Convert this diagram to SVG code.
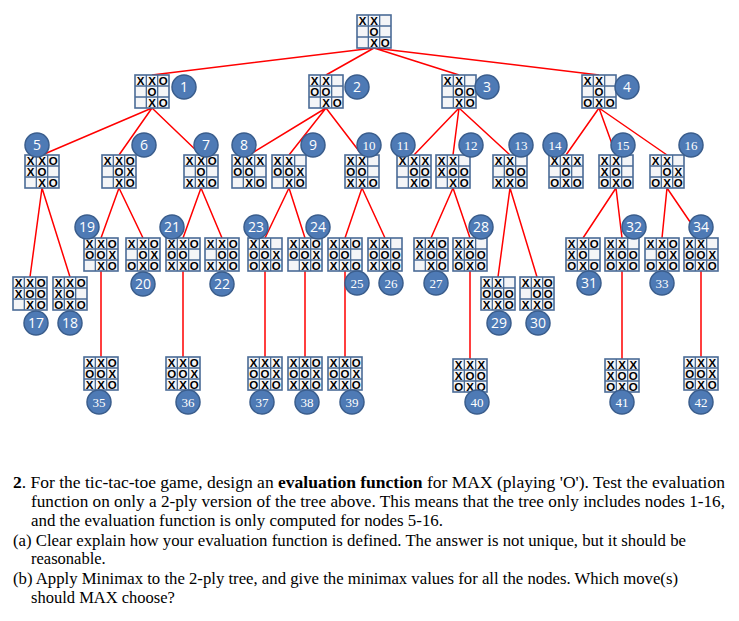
<svg xmlns="http://www.w3.org/2000/svg" xmlns:xlink="http://www.w3.org/1999/xlink" width="739" height="621" viewBox="0 0 739 621">
<style>
.m{font-family:"Liberation Sans",Arial,sans-serif;font-size:11.5px;font-weight:bold;fill:#000;text-anchor:middle}
.c{fill:#4E7AB5;stroke:#3A5D8C;stroke-width:1.5}
.ns{font-family:"Open Sans","Liberation Sans",sans-serif;font-size:14px;fill:#fff;text-anchor:middle}
.nr{font-family:"Liberation Serif","Times New Roman",serif;font-size:13px;fill:#fff;text-anchor:middle}
.e{stroke:#FF0000;stroke-width:1.5;fill:none}
.t{font-family:"Liberation Serif","Times New Roman",serif;font-size:16.5px;fill:#000}
</style>
<defs>
<g id="grid">
<rect x="0" y="0" width="34" height="33" fill="#F4F5F7" stroke="#4A6B96" stroke-width="1.6"/>
<path d="M11.33 0V33M22.67 0V33M0 11H34M0 22H34" stroke="#4A6B96" stroke-width="1.3"/>
</g>
</defs>
<rect width="739" height="621" fill="#fff"/>
<g id="connectors" class="e">
<path d="M374 48L152 75M374 48L326 75M374 48L459 75M374 48L599 75"/>
<path d="M152 108L42 155M152 108L119 155M152 108L201 155"/>
<path d="M326 108L249 155M326 108L289 155M326 108L362 155"/>
<path d="M459 108L414 155M459 108L453 155M459 108L510 155"/>
<path d="M599 108L566 155M599 108L616 155M599 108L667 155"/>
<path d="M42 188L30 277M42 188L70 277"/>
<path d="M119 188L101 238M119 188L143 238"/>
<path d="M201 188L183 238M201 188L222 238"/>
<path d="M289 188L265 238M289 188L305 238"/>
<path d="M362 188L345 238M362 188L385 238"/>
<path d="M453 188L431 238M453 188L470 238"/>
<path d="M510 188L498 277M510 188L537 277"/>
<path d="M616 188L583 238M616 188L622 238"/>
<path d="M667 188L662 238M667 188L701 238"/>
<path d="M101 271V357M183 271V357M265 271V357M305 271V357M345 271V357M470 271V359M622 271V359M701 271V357"/>
</g>
<g id="root" transform="translate(357,15)"><use href="#grid"/><text class="m" x="5.7 17" y="9.5">XX</text><text class="m" x="17" y="20.5">O</text><text class="m" x="17 28.3" y="31.5">XO</text></g>
<g id="n1"><g transform="translate(135,75)"><use href="#grid"/><text class="m" x="5.7 17 28.3" y="9.5">XXO</text><text class="m" x="17" y="20.5">O</text><text class="m" x="17 28.3" y="31.5">XO</text></g><circle class="c" cx="184" cy="87" r="12"/><text class="ns" x="184" y="92">1</text></g>
<g id="n2"><g transform="translate(309,75)"><use href="#grid"/><text class="m" x="5.7 17" y="9.5">XX</text><text class="m" x="5.7 17" y="20.5">OO</text><text class="m" x="17 28.3" y="31.5">XO</text></g><circle class="c" cx="357" cy="87" r="12"/><text class="ns" x="357" y="92">2</text></g>
<g id="n3"><g transform="translate(442,75)"><use href="#grid"/><text class="m" x="5.7 17" y="9.5">XX</text><text class="m" x="17 28.3" y="20.5">OO</text><text class="m" x="17 28.3" y="31.5">XO</text></g><circle class="c" cx="487" cy="87" r="12"/><text class="ns" x="487" y="92">3</text></g>
<g id="n4"><g transform="translate(582,75)"><use href="#grid"/><text class="m" x="5.7 17" y="9.5">XX</text><text class="m" x="17" y="20.5">O</text><text class="m" x="5.7 17 28.3" y="31.5">OXO</text></g><circle class="c" cx="627" cy="87" r="12"/><text class="ns" x="627" y="92">4</text></g>
<g id="n5"><g transform="translate(25,155)"><use href="#grid"/><text class="m" x="5.7 17 28.3" y="9.5">XXO</text><text class="m" x="5.7 17" y="20.5">XO</text><text class="m" x="17 28.3" y="31.5">XO</text></g><circle class="c" cx="37" cy="145" r="12"/><text class="ns" x="37" y="150">5</text></g>
<g id="n6"><g transform="translate(102,155)"><use href="#grid"/><text class="m" x="5.7 17 28.3" y="9.5">XXO</text><text class="m" x="17 28.3" y="20.5">OX</text><text class="m" x="17 28.3" y="31.5">XO</text></g><circle class="c" cx="144" cy="145" r="12"/><text class="ns" x="144" y="150">6</text></g>
<g id="n7"><g transform="translate(184,155)"><use href="#grid"/><text class="m" x="5.7 17 28.3" y="9.5">XXO</text><text class="m" x="17" y="20.5">O</text><text class="m" x="5.7 17 28.3" y="31.5">XXO</text></g><circle class="c" cx="206" cy="145" r="12"/><text class="ns" x="206" y="150">7</text></g>
<g id="n8"><g transform="translate(232,155)"><use href="#grid"/><text class="m" x="5.7 17 28.3" y="9.5">XXX</text><text class="m" x="5.7 17" y="20.5">OO</text><text class="m" x="17 28.3" y="31.5">XO</text></g><circle class="c" cx="244" cy="145" r="12"/><text class="ns" x="244" y="150">8</text></g>
<g id="n9"><g transform="translate(272,155)"><use href="#grid"/><text class="m" x="5.7 17" y="9.5">XX</text><text class="m" x="5.7 17 28.3" y="20.5">OOX</text><text class="m" x="17 28.3" y="31.5">XO</text></g><circle class="c" cx="313" cy="145" r="12"/><text class="ns" x="313" y="150">9</text></g>
<g id="n10"><g transform="translate(345,155)"><use href="#grid"/><text class="m" x="5.7 17" y="9.5">XX</text><text class="m" x="5.7 17" y="20.5">OO</text><text class="m" x="5.7 17 28.3" y="31.5">XXO</text></g><circle class="c" cx="369" cy="145" r="12"/><text class="nr" x="369" y="149.5">10</text></g>
<g id="n11"><g transform="translate(397,155)"><use href="#grid"/><text class="m" x="5.7 17 28.3" y="9.5">XXX</text><text class="m" x="17 28.3" y="20.5">OO</text><text class="m" x="17 28.3" y="31.5">XO</text></g><circle class="c" cx="403" cy="145" r="12"/><text class="nr" x="403" y="149.5">11</text></g>
<g id="n12"><g transform="translate(436,155)"><use href="#grid"/><text class="m" x="5.7 17" y="9.5">XX</text><text class="m" x="5.7 17 28.3" y="20.5">XOO</text><text class="m" x="17 28.3" y="31.5">XO</text></g><circle class="c" cx="471" cy="145" r="12"/><text class="nr" x="471" y="149.5">12</text></g>
<g id="n13"><g transform="translate(493,155)"><use href="#grid"/><text class="m" x="5.7 17" y="9.5">XX</text><text class="m" x="17 28.3" y="20.5">OO</text><text class="m" x="5.7 17 28.3" y="31.5">XXO</text></g><circle class="c" cx="521" cy="145" r="12"/><text class="nr" x="521" y="149.5">13</text></g>
<g id="n14"><g transform="translate(549,155)"><use href="#grid"/><text class="m" x="5.7 17 28.3" y="9.5">XXX</text><text class="m" x="17" y="20.5">O</text><text class="m" x="5.7 17 28.3" y="31.5">OXO</text></g><circle class="c" cx="555" cy="145" r="12"/><text class="nr" x="555" y="149.5">14</text></g>
<g id="n15"><g transform="translate(599,155)"><use href="#grid"/><text class="m" x="5.7 17" y="9.5">XX</text><text class="m" x="5.7 17" y="20.5">XO</text><text class="m" x="5.7 17 28.3" y="31.5">OXO</text></g><circle class="c" cx="623" cy="145" r="12"/><text class="nr" x="623" y="149.5">15</text></g>
<g id="n16"><g transform="translate(650,155)"><use href="#grid"/><text class="m" x="5.7 17" y="9.5">XX</text><text class="m" x="17 28.3" y="20.5">OX</text><text class="m" x="5.7 17 28.3" y="31.5">OXO</text></g><circle class="c" cx="691" cy="145" r="12"/><text class="nr" x="691" y="149.5">16</text></g>
<g id="n17"><g transform="translate(13,277)"><use href="#grid"/><text class="m" x="5.7 17 28.3" y="9.5">XXO</text><text class="m" x="5.7 17 28.3" y="20.5">XOO</text><text class="m" x="17 28.3" y="31.5">XO</text></g><circle class="c" cx="36" cy="323" r="12"/><text class="ns" x="36" y="328">17</text></g>
<g id="n18"><g transform="translate(53,277)"><use href="#grid"/><text class="m" x="5.7 17 28.3" y="9.5">XXO</text><text class="m" x="5.7 17" y="20.5">XO</text><text class="m" x="5.7 17 28.3" y="31.5">OXO</text></g><circle class="c" cx="70" cy="323" r="12"/><text class="ns" x="70" y="328">18</text></g>
<g id="n19"><g transform="translate(84,238)"><use href="#grid"/><text class="m" x="5.7 17 28.3" y="9.5">XXO</text><text class="m" x="5.7 17 28.3" y="20.5">OOX</text><text class="m" x="17 28.3" y="31.5">XO</text></g><circle class="c" cx="87" cy="227" r="12"/><text class="ns" x="87" y="232">19</text></g>
<g id="n20"><g transform="translate(126,238)"><use href="#grid"/><text class="m" x="5.7 17 28.3" y="9.5">XXO</text><text class="m" x="17 28.3" y="20.5">OX</text><text class="m" x="5.7 17 28.3" y="31.5">OXO</text></g><circle class="c" cx="143" cy="284" r="12"/><text class="ns" x="143" y="289">20</text></g>
<g id="n21"><g transform="translate(166,238)"><use href="#grid"/><text class="m" x="5.7 17 28.3" y="9.5">XXO</text><text class="m" x="5.7 17" y="20.5">OO</text><text class="m" x="5.7 17 28.3" y="31.5">XXO</text></g><circle class="c" cx="172" cy="227" r="12"/><text class="ns" x="172" y="232">21</text></g>
<g id="n22"><g transform="translate(205,238)"><use href="#grid"/><text class="m" x="5.7 17 28.3" y="9.5">XXO</text><text class="m" x="17 28.3" y="20.5">OO</text><text class="m" x="5.7 17 28.3" y="31.5">XXO</text></g><circle class="c" cx="222" cy="284" r="12"/><text class="ns" x="222" y="289">22</text></g>
<g id="n23"><g transform="translate(248,238)"><use href="#grid"/><text class="m" x="5.7 17" y="9.5">XX</text><text class="m" x="5.7 17 28.3" y="20.5">OOX</text><text class="m" x="5.7 17 28.3" y="31.5">OXO</text></g><circle class="c" cx="256" cy="227" r="12"/><text class="ns" x="256" y="232">23</text></g>
<g id="n24"><g transform="translate(288,238)"><use href="#grid"/><text class="m" x="5.7 17 28.3" y="9.5">XXO</text><text class="m" x="5.7 17 28.3" y="20.5">OOX</text><text class="m" x="17 28.3" y="31.5">XO</text></g><circle class="c" cx="318" cy="227" r="12"/><text class="ns" x="318" y="232">24</text></g>
<g id="n25"><g transform="translate(328,238)"><use href="#grid"/><text class="m" x="5.7 17 28.3" y="9.5">XXO</text><text class="m" x="5.7 17" y="20.5">OO</text><text class="m" x="5.7 17 28.3" y="31.5">XXO</text></g><circle class="c" cx="357" cy="283" r="12"/><text class="nr" x="357" y="287.5">25</text></g>
<g id="n26"><g transform="translate(368,238)"><use href="#grid"/><text class="m" x="5.7 17" y="9.5">XX</text><text class="m" x="5.7 17 28.3" y="20.5">OOO</text><text class="m" x="5.7 17 28.3" y="31.5">XXO</text></g><circle class="c" cx="391" cy="283" r="12"/><text class="nr" x="391" y="287.5">26</text></g>
<g id="n27"><g transform="translate(414,238)"><use href="#grid"/><text class="m" x="5.7 17 28.3" y="9.5">XXO</text><text class="m" x="5.7 17 28.3" y="20.5">XOO</text><text class="m" x="17 28.3" y="31.5">XO</text></g><circle class="c" cx="436" cy="283" r="12"/><text class="nr" x="436" y="287.5">27</text></g>
<g id="n28"><g transform="translate(453,238)"><use href="#grid"/><text class="m" x="5.7 17" y="9.5">XX</text><text class="m" x="5.7 17 28.3" y="20.5">XOO</text><text class="m" x="5.7 17 28.3" y="31.5">OXO</text></g><circle class="c" cx="481" cy="227" r="12"/><text class="ns" x="481" y="232">28</text></g>
<g id="n29"><g transform="translate(481,277)"><use href="#grid"/><text class="m" x="5.7 17" y="9.5">XX</text><text class="m" x="5.7 17 28.3" y="20.5">OOO</text><text class="m" x="5.7 17 28.3" y="31.5">XXO</text></g><circle class="c" cx="499" cy="323" r="12"/><text class="ns" x="499" y="328">29</text></g>
<g id="n30"><g transform="translate(520,277)"><use href="#grid"/><text class="m" x="5.7 17 28.3" y="9.5">XXO</text><text class="m" x="17 28.3" y="20.5">OO</text><text class="m" x="5.7 17 28.3" y="31.5">XXO</text></g><circle class="c" cx="538" cy="323" r="12"/><text class="ns" x="538" y="328">30</text></g>
<g id="n31"><g transform="translate(566,238)"><use href="#grid"/><text class="m" x="5.7 17 28.3" y="9.5">XXO</text><text class="m" x="5.7 17" y="20.5">XO</text><text class="m" x="5.7 17 28.3" y="31.5">OXO</text></g><circle class="c" cx="589" cy="283" r="12"/><text class="ns" x="589" y="288">31</text></g>
<g id="n32"><g transform="translate(605,238)"><use href="#grid"/><text class="m" x="5.7 17" y="9.5">XX</text><text class="m" x="5.7 17 28.3" y="20.5">XOO</text><text class="m" x="5.7 17 28.3" y="31.5">OXO</text></g><circle class="c" cx="634" cy="227" r="12"/><text class="ns" x="634" y="232">32</text></g>
<g id="n33"><g transform="translate(645,238)"><use href="#grid"/><text class="m" x="5.7 17 28.3" y="9.5">XXO</text><text class="m" x="17 28.3" y="20.5">OX</text><text class="m" x="5.7 17 28.3" y="31.5">OXO</text></g><circle class="c" cx="662" cy="283" r="12"/><text class="nr" x="662" y="287.5">33</text></g>
<g id="n34"><g transform="translate(684,238)"><use href="#grid"/><text class="m" x="5.7 17" y="9.5">XX</text><text class="m" x="5.7 17 28.3" y="20.5">OOX</text><text class="m" x="5.7 17 28.3" y="31.5">OXO</text></g><circle class="c" cx="701" cy="227" r="12"/><text class="ns" x="701" y="232">34</text></g>
<g id="n35"><g transform="translate(84,357)"><use href="#grid"/><text class="m" x="5.7 17 28.3" y="9.5">XXO</text><text class="m" x="5.7 17 28.3" y="20.5">OOX</text><text class="m" x="5.7 17 28.3" y="31.5">XXO</text></g><circle class="c" cx="99" cy="402" r="12"/><text class="nr" x="99" y="406.5">35</text></g>
<g id="n36"><g transform="translate(166,357)"><use href="#grid"/><text class="m" x="5.7 17 28.3" y="9.5">XXO</text><text class="m" x="5.7 17 28.3" y="20.5">OOX</text><text class="m" x="5.7 17 28.3" y="31.5">XXO</text></g><circle class="c" cx="188" cy="402" r="12"/><text class="nr" x="188" y="406.5">36</text></g>
<g id="n37"><g transform="translate(248,357)"><use href="#grid"/><text class="m" x="5.7 17 28.3" y="9.5">XXX</text><text class="m" x="5.7 17 28.3" y="20.5">OOX</text><text class="m" x="5.7 17 28.3" y="31.5">OXO</text></g><circle class="c" cx="262" cy="402" r="12"/><text class="nr" x="262" y="406.5">37</text></g>
<g id="n38"><g transform="translate(288,357)"><use href="#grid"/><text class="m" x="5.7 17 28.3" y="9.5">XXO</text><text class="m" x="5.7 17 28.3" y="20.5">OOX</text><text class="m" x="5.7 17 28.3" y="31.5">XXO</text></g><circle class="c" cx="307" cy="402" r="12"/><text class="nr" x="307" y="406.5">38</text></g>
<g id="n39"><g transform="translate(328,357)"><use href="#grid"/><text class="m" x="5.7 17 28.3" y="9.5">XXO</text><text class="m" x="5.7 17 28.3" y="20.5">OOX</text><text class="m" x="5.7 17 28.3" y="31.5">XXO</text></g><circle class="c" cx="352" cy="402" r="12"/><text class="nr" x="352" y="406.5">39</text></g>
<g id="n40"><g transform="translate(453,359)"><use href="#grid"/><text class="m" x="5.7 17 28.3" y="9.5">XXX</text><text class="m" x="5.7 17 28.3" y="20.5">XOO</text><text class="m" x="5.7 17 28.3" y="31.5">OXO</text></g><circle class="c" cx="477" cy="402" r="12"/><text class="nr" x="477" y="406.5">40</text></g>
<g id="n41"><g transform="translate(605,359)"><use href="#grid"/><text class="m" x="5.7 17 28.3" y="9.5">XXX</text><text class="m" x="5.7 17 28.3" y="20.5">XOO</text><text class="m" x="5.7 17 28.3" y="31.5">OXO</text></g><circle class="c" cx="622" cy="402" r="12"/><text class="nr" x="622" y="406.5">41</text></g>
<g id="n42"><g transform="translate(684,357)"><use href="#grid"/><text class="m" x="5.7 17 28.3" y="9.5">XXX</text><text class="m" x="5.7 17 28.3" y="20.5">OOX</text><text class="m" x="5.7 17 28.3" y="31.5">OXO</text></g><circle class="c" cx="701" cy="402" r="12"/><text class="nr" x="701" y="406.5">42</text></g>
<g id="question" class="t">
<text x="13" y="488" textLength="712" lengthAdjust="spacingAndGlyphs"><tspan font-weight="bold">2</tspan>. For the tic-tac-toe game, design an <tspan font-weight="bold">evaluation function</tspan> for MAX (playing 'O'). Test the evaluation</text>
<text x="31" y="507" textLength="694" lengthAdjust="spacingAndGlyphs">function on only a 2-ply version of the tree above. This means that the tree only includes nodes 1-16,</text>
<text x="31" y="526" textLength="412" lengthAdjust="spacingAndGlyphs">and the evaluation function is only computed for nodes 5-16.</text>
<text x="13" y="546" textLength="673" lengthAdjust="spacingAndGlyphs">(a) Clear explain how your evaluation function is defined. The answer is not unique, but it should be</text>
<text x="31" y="564">reasonable.</text>
<text x="13" y="584" textLength="665" lengthAdjust="spacingAndGlyphs">(b) Apply Minimax to the 2-ply tree, and give the minimax values for all the nodes. Which move(s)</text>
<text x="31" y="603">should MAX choose?</text>
</g>
</svg>
